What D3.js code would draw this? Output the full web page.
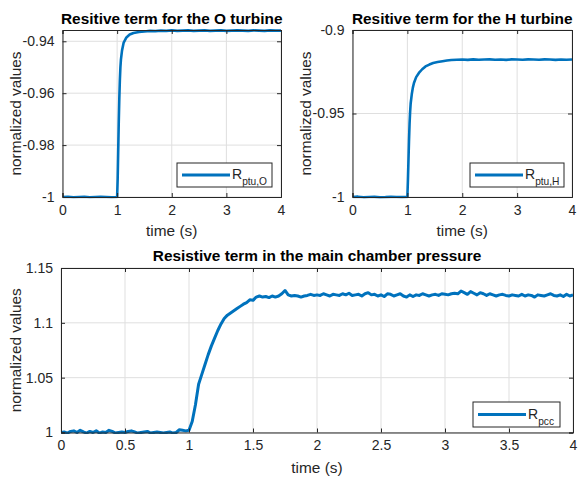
<!DOCTYPE html>
<html><head><meta charset="utf-8">
<script src="https://cdn.jsdelivr.net/npm/d3@7"></script>
<style>
html,body{margin:0;padding:0;background:#fff;}
svg{display:block;font-family:"Liberation Sans",Arial,Helvetica,sans-serif;}
</style></head>
<body>
<svg id="fig" width="578" height="483"></svg>
<script>
// ---------- DATA ----------
const titleO = "Resitive term for the O turbine";
const titleH = "Resitive term for the H turbine";
const titleP = "Resistive term in the main chamber pressure";
const xLabel = "time (s)";
const yLabel = "normalized values";

const xTicksTop = [0, 1, 2, 3, 4];
const xTicksBottom = [0, 0.5, 1, 1.5, 2, 2.5, 3, 3.5, 4];
const yTicksO = [-1, -0.98, -0.96, -0.94];
const yTicksH = [-1, -0.95, -0.9];
const yTicksP = [1, 1.05, 1.1, 1.15];

// O turbine resistive term (time, value)
const timeO = [0, 0.1, 0.2, 0.3, 0.4, 0.5, 0.6, 0.7, 0.8, 0.9, 0.99, 1.0, 1.01, 1.02, 1.03, 1.04, 1.05, 1.06, 1.07, 1.09, 1.12, 1.17, 1.23, 1.3, 1.4, 1.5, 1.6, 1.7, 1.8, 1.9, 2.0, 2.1, 2.2, 2.3, 2.4, 2.5, 2.6, 2.7, 2.8, 2.9, 3.0, 3.1, 3.2, 3.3, 3.4, 3.5, 3.6, 3.7, 3.8, 3.9, 4.0];
const valueO = [-1.0, -0.9999, -1.0001, -1.0, -0.9999, -1.0001, -1.0, -0.9999, -1.0, -1.0001, -1.0, -1.0, -0.993, -0.982, -0.971, -0.962, -0.955, -0.950, -0.947, -0.9435, -0.9405, -0.9385, -0.9374, -0.9368, -0.9364, -0.9362, -0.9360, -0.9361, -0.9359, -0.9360, -0.9358, -0.9360, -0.9359, -0.9358, -0.9360, -0.9359, -0.9358, -0.9360, -0.9359, -0.9358, -0.9360, -0.9359, -0.9358, -0.9359, -0.9360, -0.9358, -0.9359, -0.9360, -0.9358, -0.9359, -0.9359];

// H turbine resistive term (time, value)
const timeH = [0, 0.1, 0.2, 0.3, 0.4, 0.5, 0.6, 0.7, 0.8, 0.9, 0.99, 1.0, 1.01, 1.02, 1.03, 1.04, 1.05, 1.06, 1.08, 1.1, 1.12, 1.16, 1.21, 1.27, 1.33, 1.4, 1.47, 1.55, 1.64, 1.72, 1.8, 1.9, 2.0, 2.1, 2.2, 2.3, 2.4, 2.5, 2.6, 2.7, 2.8, 2.9, 3.0, 3.1, 3.2, 3.3, 3.4, 3.5, 3.6, 3.7, 3.8, 3.9, 4.0];
const valueH = [-1.0, -0.9998, -1.0002, -1.0, -0.9999, -1.0002, -1.0001, -0.9999, -1.0, -1.0001, -1.0, -1.0, -0.990, -0.978, -0.966, -0.956, -0.949, -0.944, -0.9385, -0.9345, -0.9317, -0.9282, -0.9257, -0.9235, -0.9218, -0.9207, -0.9198, -0.9192, -0.9187, -0.9183, -0.9180, -0.9178, -0.9177, -0.9179, -0.9176, -0.9178, -0.9177, -0.9176, -0.9178, -0.9177, -0.9179, -0.9176, -0.9177, -0.9178, -0.9176, -0.9177, -0.9178, -0.9176, -0.9177, -0.9179, -0.9177, -0.9178, -0.9177];

// Main chamber pressure resistive term, sampled every 0.025 s from 0 to 4 s
const valueP = [
  1.000, 1.0005, 0.9995, 1.001, 1.0015, 1.000, 1.002, 1.0005, 0.9995, 1.001,
  1.000, 1.0015, 0.9995, 1.0005, 1.000, 1.002, 1.001, 0.9995, 1.000, 1.0005,
  1.000, 1.001, 1.0015, 1.0005, 0.9995, 1.000, 1.0005, 1.001, 0.9995, 1.000,
  1.0005, 1.000, 0.9995, 1.000, 1.0005, 0.9995, 1.000, 1.0025, 1.002, 1.0015,
  1.002, 1.010, 1.025, 1.044, 1.053, 1.062, 1.071, 1.079, 1.086, 1.093,
  1.099, 1.104, 1.107, 1.109, 1.111, 1.113, 1.115, 1.117, 1.1185, 1.121,
  1.1205, 1.1235, 1.1245, 1.1235, 1.124, 1.123, 1.1245, 1.1235, 1.1245, 1.1265,
  1.1295, 1.1255, 1.1245, 1.125, 1.1245, 1.1235, 1.1245, 1.125, 1.126, 1.125,
  1.1255, 1.125, 1.1265, 1.1255, 1.1245, 1.126, 1.1255, 1.125, 1.1265, 1.1255,
  1.127, 1.125, 1.1255, 1.126, 1.1245, 1.1265, 1.1275, 1.1255, 1.126, 1.1245,
  1.1255, 1.124, 1.1265, 1.126, 1.1245, 1.1255, 1.1265, 1.1245, 1.1235, 1.1255,
  1.124, 1.1255, 1.125, 1.1265, 1.1255, 1.1245, 1.1255, 1.126, 1.125, 1.1265,
  1.126, 1.1255, 1.1265, 1.127, 1.1265, 1.129, 1.1275, 1.126, 1.1285, 1.127,
  1.1255, 1.1275, 1.1265, 1.125, 1.1265, 1.1255, 1.1245, 1.1255, 1.126, 1.125,
  1.1245, 1.1255, 1.125, 1.1245, 1.126, 1.1245, 1.1255, 1.125, 1.1235, 1.1255,
  1.125, 1.1245, 1.1255, 1.1265, 1.125, 1.1245, 1.1255, 1.124, 1.126, 1.1245,
  1.1255
];
const timeP = d3.range(valueP.length).map(i => i * 0.025);

// ---------- DRAW ----------
const svg = d3.select("#fig");
const BLUE = "#0072BD";
const AX = "#262626";
const GRID = "#dfdfdf";

function panel(cfg) {
  const x = d3.scaleLinear().domain(cfg.xDomain).range([cfg.left, cfg.right]);
  const y = d3.scaleLinear().domain(cfg.yDomain).range([cfg.bottom, cfg.top]);
  const g = svg.append("g");
  const id = "clip" + cfg.name;
  svg.append("defs").append("clipPath").attr("id", id)
    .append("rect").attr("x", cfg.left).attr("y", cfg.top - 1.5)
    .attr("width", cfg.right - cfg.left).attr("height", cfg.bottom - cfg.top + 3);

  // grid
  g.selectAll(".gx").data(cfg.xTicks).enter().append("line")
    .attr("x1", d => x(d)).attr("x2", d => x(d))
    .attr("y1", cfg.top).attr("y2", cfg.bottom)
    .attr("stroke", GRID).attr("stroke-width", 1);
  g.selectAll(".gy").data(cfg.yTicks).enter().append("line")
    .attr("x1", cfg.left).attr("x2", cfg.right)
    .attr("y1", d => y(d)).attr("y2", d => y(d))
    .attr("stroke", GRID).attr("stroke-width", 1);

  // data line
  const pts = cfg.t.map((t, i) => [t, cfg.v[i]]);
  g.append("path").datum(pts)
    .attr("clip-path", `url(#${id})`)
    .attr("fill", "none").attr("stroke", BLUE)
    .attr("stroke-width", cfg.lw).attr("stroke-linejoin", "round")
    .attr("d", d3.line().x(d => x(d[0])).y(d => y(d[1])));

  // axes with d3 axis generators (inward ticks)
  const tl = 4;
  const xb = d3.axisBottom(x).tickValues(cfg.xTicks).tickSize(-tl).tickFormat(d => String(d)).tickPadding(8);
  const xt = d3.axisTop(x).tickValues(cfg.xTicks).tickSize(-tl).tickFormat("");
  const yl = d3.axisLeft(y).tickValues(cfg.yTicks).tickSize(-tl).tickFormat(d => String(d)).tickPadding(8);
  const yr = d3.axisRight(y).tickValues(cfg.yTicks).tickSize(-tl).tickFormat("");
  const gxb = g.append("g").attr("transform", `translate(0,${cfg.bottom})`).call(xb);
  const gxt = g.append("g").attr("transform", `translate(0,${cfg.top})`).call(xt);
  const gyl = g.append("g").attr("transform", `translate(${cfg.left},0)`).call(yl);
  const gyr = g.append("g").attr("transform", `translate(${cfg.right},0)`).call(yr);
  [gxb, gxt, gyl, gyr].forEach(a => {
    a.select(".domain").attr("stroke", AX).attr("stroke-width", 1);
    a.selectAll(".tick line").attr("stroke", AX).attr("stroke-width", 1);
    a.selectAll("text").attr("fill", AX).attr("font-size", 14)
      .attr("font-family", "'Liberation Sans', Arial, sans-serif");
  });

  // title
  svg.append("text").attr("x", (cfg.left + cfg.right) / 2).attr("y", cfg.titleY)
    .attr("text-anchor", "middle").attr("font-weight", "bold").attr("font-size", 15.4)
    .attr("fill", "#000").text(cfg.title);
  // x label
  svg.append("text").attr("x", (cfg.left + cfg.right) / 2).attr("y", cfg.xLabelY)
    .attr("text-anchor", "middle").attr("font-size", 15.4).attr("fill", AX).text(xLabel);
  // y label
  svg.append("text")
    .attr("transform", `translate(${cfg.yLabelX},${(cfg.top + cfg.bottom) / 2}) rotate(-90)`)
    .attr("text-anchor", "middle").attr("font-size", 15.4).attr("fill", AX).text(yLabel);

  // legend
  const L = cfg.legend;
  const lg = svg.append("g");
  lg.append("rect").attr("x", L.x).attr("y", L.y).attr("width", L.w).attr("height", L.h)
    .attr("fill", "#fff").attr("stroke", AX).attr("stroke-width", 1);
  lg.append("line").attr("x1", L.x + 5).attr("x2", L.x + 53)
    .attr("y1", L.y + L.h / 2).attr("y2", L.y + L.h / 2)
    .attr("stroke", BLUE).attr("stroke-width", 3);
  const tx = lg.append("text").attr("x", L.x + 55).attr("y", L.y + L.h / 2 + 4)
    .attr("font-size", 14).attr("fill", AX);
  tx.append("tspan").text("R");
  tx.append("tspan").attr("font-size", 10.2).attr("dy", 6).text(L.sub);
}

panel({
  name: "O", left: 62.5, right: 281, top: 30, bottom: 197,
  xDomain: [0, 4], yDomain: [-1, -0.93565],
  xTicks: xTicksTop, yTicks: yTicksO, t: timeO, v: valueO, lw: 2.6,
  title: titleO, titleY: 24, xLabelY: 236, yLabelX: 21,
  legend: {x: 177, y: 163, w: 95, h: 24, sub: "ptu,O"}
});
panel({
  name: "H", left: 352.5, right: 572, top: 30, bottom: 197,
  xDomain: [0, 4], yDomain: [-1, -0.9],
  xTicks: xTicksTop, yTicks: yTicksH, t: timeH, v: valueH, lw: 2.6,
  title: titleH, titleY: 24, xLabelY: 236, yLabelX: 311,
  legend: {x: 470, y: 163, w: 94, h: 24, sub: "ptu,H"}
});
panel({
  name: "P", left: 61, right: 573, top: 268, bottom: 432.5,
  xDomain: [0, 4], yDomain: [1, 1.15],
  xTicks: xTicksBottom, yTicks: yTicksP, t: timeP, v: valueP, lw: 3,
  title: titleP, titleY: 261, xLabelY: 473, yLabelX: 21,
  legend: {x: 473, y: 402, w: 87, h: 25, sub: "pcc"}
});
</script>
</body></html>
